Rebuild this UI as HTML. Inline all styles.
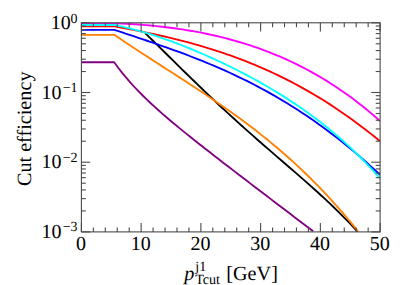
<!DOCTYPE html>
<html><head><meta charset="utf-8"><title>Cut efficiency</title>
<style>
html,body{margin:0;padding:0;background:#ffffff;}
body{width:407px;height:285px;overflow:hidden;}
svg{display:block;}
svg text{font-family:"Liberation Serif",serif;fill:#000;text-rendering:geometricPrecision;}
</style></head><body>
<svg width="407" height="285" viewBox="0 0 407 285">
<rect x="0" y="0" width="407" height="285" fill="#ffffff"/>
<defs><clipPath id="ax"><rect x="81.4" y="22.8" width="298.70" height="209.10"/></clipPath></defs>
<g clip-path="url(#ax)" fill="none" stroke-width="1.85" stroke-linejoin="round" stroke-linecap="butt">
<path d="M145.2,33.16 L149.2,37.05 L153.2,40.97 L157.2,44.89 L161.2,48.83 L165.2,52.77 L169.2,56.72 L173.2,60.67 L177.2,64.61 L181.2,68.55 L185.2,72.47 L189.2,76.38 L193.2,80.28 L197.2,84.15 L201.2,88.01 L205.2,91.85 L209.2,95.66 L213.2,99.45 L217.2,103.21 L221.2,106.95 L225.2,110.66 L229.2,114.35 L233.2,118.00 L237.2,121.64 L241.2,125.25 L245.2,128.83 L249.2,132.39 L253.2,135.93 L257.2,139.45 L261.2,142.95 L265.2,146.44 L269.2,149.91 L273.2,153.37 L277.2,156.83 L281.2,160.28 L285.2,163.73 L289.2,167.18 L293.2,170.64 L297.2,174.11 L301.2,177.60 L305.2,181.11 L309.2,184.64 L313.2,188.21 L317.2,191.81 L321.2,195.46 L325.2,199.15 L329.2,202.90 L333.2,206.71 L337.2,210.59 L341.2,214.55 L345.2,218.59 L349.2,222.72 L353.2,226.94 L357.2,231.28 L357.8,231.94" stroke="#000000"/>
<path d="M81.4,62.25 L114.2,62.25 L118.2,67.73 L122.2,72.87 L126.2,77.73 L130.2,82.35 L134.2,86.75 L138.2,90.96 L142.2,95.02 L146.2,98.94 L150.2,102.74 L154.2,106.43 L158.2,110.04 L162.2,113.57 L166.2,117.03 L170.2,120.44 L174.2,123.79 L178.2,127.10 L182.2,130.38 L186.2,133.62 L190.2,136.84 L194.2,140.03 L198.2,143.20 L202.2,146.35 L206.2,149.48 L210.2,152.60 L214.2,155.72 L218.2,158.82 L222.2,161.91 L226.2,164.99 L230.2,168.07 L234.2,171.14 L238.2,174.21 L242.2,177.27 L246.2,180.33 L250.2,183.39 L254.2,186.44 L258.2,189.49 L262.2,192.54 L266.2,195.59 L270.2,198.63 L274.2,201.68 L278.2,204.72 L282.2,207.76 L286.2,210.80 L290.2,213.85 L294.2,216.89 L298.2,219.92 L302.2,222.96 L306.2,226.00 L310.2,229.04 L313.2,231.32" stroke="#800080"/>
<path d="M81.4,34.85 L114.3,34.85 L118.3,37.57 L122.3,40.27 L126.3,42.94 L130.3,45.60 L134.3,48.23 L138.3,50.85 L142.3,53.46 L146.3,56.05 L150.3,58.64 L154.3,61.22 L158.3,63.79 L162.3,66.36 L166.3,68.93 L170.3,71.50 L174.3,74.07 L178.3,76.65 L182.3,79.23 L186.3,81.82 L190.3,84.43 L194.3,87.04 L198.3,89.68 L202.3,92.33 L206.3,95.00 L210.3,97.69 L214.3,100.41 L218.3,103.15 L222.3,105.92 L226.3,108.72 L230.3,111.55 L234.3,114.42 L238.3,117.32 L242.3,120.26 L246.3,123.24 L250.3,126.27 L254.3,129.33 L258.3,132.45 L262.3,135.61 L266.3,138.83 L270.3,142.10 L274.3,145.42 L278.3,148.80 L282.3,152.24 L286.3,155.75 L290.3,159.31 L294.3,162.94 L298.3,166.64 L302.3,170.41 L306.3,174.25 L310.3,178.16 L314.3,182.15 L318.3,186.22 L322.3,190.37 L326.3,194.60 L330.3,198.91 L334.3,203.32 L338.3,207.81 L342.3,212.39 L346.3,217.06 L350.3,221.83 L354.3,226.69 L357.9,231.16" stroke="#ff8000"/>
<path d="M81.4,23.30 L114.3,23.30 L118.3,23.44 L122.3,23.61 L126.3,23.80 L130.3,24.02 L134.3,24.26 L138.3,24.53 L142.3,24.83 L146.3,25.16 L150.3,25.51 L154.3,25.89 L158.3,26.30 L162.3,26.74 L166.3,27.22 L170.3,27.72 L174.3,28.26 L178.3,28.82 L182.3,29.42 L186.3,30.06 L190.3,30.73 L194.3,31.43 L198.3,32.17 L202.3,32.95 L206.3,33.76 L210.3,34.62 L214.3,35.51 L218.3,36.44 L222.3,37.41 L226.3,38.43 L230.3,39.49 L234.3,40.59 L238.3,41.74 L242.3,42.94 L246.3,44.18 L250.3,45.47 L254.3,46.80 L258.3,48.19 L262.3,49.63 L266.3,51.13 L270.3,52.67 L274.3,54.27 L278.3,55.93 L282.3,57.65 L286.3,59.42 L290.3,61.25 L294.3,63.15 L298.3,65.10 L302.3,67.12 L306.3,69.21 L310.3,71.36 L314.3,73.58 L318.3,75.87 L322.3,78.23 L326.3,80.66 L330.3,83.17 L334.3,85.75 L338.3,88.41 L342.3,91.14 L346.3,93.96 L350.3,96.86 L354.3,99.84 L358.3,102.90 L362.3,106.06 L366.3,109.30 L370.3,112.63 L374.3,116.05 L378.3,119.56 L380.0,121.08" stroke="#ff00ff"/>
<path d="M81.4,26.35 L114.3,26.35 L118.3,27.08 L122.3,27.83 L126.3,28.58 L130.3,29.35 L134.3,30.12 L138.3,30.92 L142.3,31.72 L146.3,32.55 L150.3,33.39 L154.3,34.25 L158.3,35.12 L162.3,36.02 L166.3,36.94 L170.3,37.89 L174.3,38.86 L178.3,39.85 L182.3,40.87 L186.3,41.91 L190.3,42.98 L194.3,44.08 L198.3,45.21 L202.3,46.37 L206.3,47.57 L210.3,48.79 L214.3,50.05 L218.3,51.34 L222.3,52.67 L226.3,54.03 L230.3,55.43 L234.3,56.87 L238.3,58.35 L242.3,59.86 L246.3,61.42 L250.3,63.02 L254.3,64.65 L258.3,66.33 L262.3,68.06 L266.3,69.83 L270.3,71.64 L274.3,73.50 L278.3,75.40 L282.3,77.35 L286.3,79.35 L290.3,81.40 L294.3,83.49 L298.3,85.64 L302.3,87.83 L306.3,90.08 L310.3,92.38 L314.3,94.72 L318.3,97.13 L322.3,99.58 L326.3,102.09 L330.3,104.65 L334.3,107.27 L338.3,109.94 L342.3,112.67 L346.3,115.45 L350.3,118.29 L354.3,121.19 L358.3,124.14 L362.3,127.16 L366.3,130.23 L370.3,133.36 L374.3,136.55 L378.3,139.80 L380.0,141.20" stroke="#ff0000"/>
<path d="M81.4,29.80 L114.3,29.80 L118.3,31.13 L122.3,32.47 L126.3,33.80 L130.3,35.13 L134.3,36.47 L138.3,37.80 L142.3,39.15 L146.3,40.50 L150.3,41.86 L154.3,43.23 L158.3,44.61 L162.3,46.01 L166.3,47.41 L170.3,48.84 L174.3,50.28 L178.3,51.74 L182.3,53.22 L186.3,54.73 L190.3,56.25 L194.3,57.80 L198.3,59.38 L202.3,60.98 L206.3,62.61 L210.3,64.27 L214.3,65.95 L218.3,67.67 L222.3,69.43 L226.3,71.21 L230.3,73.03 L234.3,74.89 L238.3,76.79 L242.3,78.72 L246.3,80.69 L250.3,82.70 L254.3,84.75 L258.3,86.85 L262.3,88.99 L266.3,91.17 L270.3,93.39 L274.3,95.66 L278.3,97.98 L282.3,100.35 L286.3,102.76 L290.3,105.23 L294.3,107.74 L298.3,110.30 L302.3,112.92 L306.3,115.59 L310.3,118.30 L314.3,121.08 L318.3,123.91 L322.3,126.79 L326.3,129.72 L330.3,132.72 L334.3,135.77 L338.3,138.87 L342.3,142.04 L346.3,145.26 L350.3,148.54 L354.3,151.88 L358.3,155.28 L362.3,158.74 L366.3,162.26 L370.3,165.84 L374.3,169.48 L378.3,173.18 L380.0,174.78" stroke="#0000ff"/>
<path d="M81.4,24.95 L114.3,24.95 L118.3,25.75 L122.3,26.62 L126.3,27.54 L130.3,28.52 L134.3,29.55 L138.3,30.63 L142.3,31.77 L146.3,32.95 L150.3,34.18 L154.3,35.45 L158.3,36.76 L162.3,38.12 L166.3,39.52 L170.3,40.96 L174.3,42.43 L178.3,43.95 L182.3,45.50 L186.3,47.08 L190.3,48.70 L194.3,50.35 L198.3,52.04 L202.3,53.76 L206.3,55.52 L210.3,57.31 L214.3,59.13 L218.3,60.98 L222.3,62.87 L226.3,64.79 L230.3,66.74 L234.3,68.73 L238.3,70.75 L242.3,72.81 L246.3,74.91 L250.3,77.04 L254.3,79.22 L258.3,81.43 L262.3,83.68 L266.3,85.98 L270.3,88.32 L274.3,90.70 L278.3,93.14 L282.3,95.62 L286.3,98.15 L290.3,100.74 L294.3,103.38 L298.3,106.07 L302.3,108.83 L306.3,111.65 L310.3,114.53 L314.3,117.48 L318.3,120.50 L322.3,123.60 L326.3,126.77 L330.3,130.01 L334.3,133.34 L338.3,136.76 L342.3,140.26 L346.3,143.86 L350.3,147.55 L354.3,151.34 L358.3,155.24 L362.3,159.24 L366.3,163.35 L370.3,167.58 L374.3,171.93 L378.3,176.41 L380.0,178.34" stroke="#00ffff"/>
</g>
<g stroke="#4a4a4a" stroke-width="1.1" fill="none">
<line x1="81.40" y1="231.9" x2="81.40" y2="223.10"/>
<line x1="81.40" y1="22.8" x2="81.40" y2="31.60"/>
<line x1="93.35" y1="231.9" x2="93.35" y2="227.50"/>
<line x1="93.35" y1="22.8" x2="93.35" y2="27.20"/>
<line x1="105.30" y1="231.9" x2="105.30" y2="227.50"/>
<line x1="105.30" y1="22.8" x2="105.30" y2="27.20"/>
<line x1="117.24" y1="231.9" x2="117.24" y2="227.50"/>
<line x1="117.24" y1="22.8" x2="117.24" y2="27.20"/>
<line x1="129.19" y1="231.9" x2="129.19" y2="227.50"/>
<line x1="129.19" y1="22.8" x2="129.19" y2="27.20"/>
<line x1="141.14" y1="231.9" x2="141.14" y2="223.10"/>
<line x1="141.14" y1="22.8" x2="141.14" y2="31.60"/>
<line x1="153.09" y1="231.9" x2="153.09" y2="227.50"/>
<line x1="153.09" y1="22.8" x2="153.09" y2="27.20"/>
<line x1="165.04" y1="231.9" x2="165.04" y2="227.50"/>
<line x1="165.04" y1="22.8" x2="165.04" y2="27.20"/>
<line x1="176.98" y1="231.9" x2="176.98" y2="227.50"/>
<line x1="176.98" y1="22.8" x2="176.98" y2="27.20"/>
<line x1="188.93" y1="231.9" x2="188.93" y2="227.50"/>
<line x1="188.93" y1="22.8" x2="188.93" y2="27.20"/>
<line x1="200.88" y1="231.9" x2="200.88" y2="223.10"/>
<line x1="200.88" y1="22.8" x2="200.88" y2="31.60"/>
<line x1="212.83" y1="231.9" x2="212.83" y2="227.50"/>
<line x1="212.83" y1="22.8" x2="212.83" y2="27.20"/>
<line x1="224.78" y1="231.9" x2="224.78" y2="227.50"/>
<line x1="224.78" y1="22.8" x2="224.78" y2="27.20"/>
<line x1="236.72" y1="231.9" x2="236.72" y2="227.50"/>
<line x1="236.72" y1="22.8" x2="236.72" y2="27.20"/>
<line x1="248.67" y1="231.9" x2="248.67" y2="227.50"/>
<line x1="248.67" y1="22.8" x2="248.67" y2="27.20"/>
<line x1="260.62" y1="231.9" x2="260.62" y2="223.10"/>
<line x1="260.62" y1="22.8" x2="260.62" y2="31.60"/>
<line x1="272.57" y1="231.9" x2="272.57" y2="227.50"/>
<line x1="272.57" y1="22.8" x2="272.57" y2="27.20"/>
<line x1="284.52" y1="231.9" x2="284.52" y2="227.50"/>
<line x1="284.52" y1="22.8" x2="284.52" y2="27.20"/>
<line x1="296.46" y1="231.9" x2="296.46" y2="227.50"/>
<line x1="296.46" y1="22.8" x2="296.46" y2="27.20"/>
<line x1="308.41" y1="231.9" x2="308.41" y2="227.50"/>
<line x1="308.41" y1="22.8" x2="308.41" y2="27.20"/>
<line x1="320.36" y1="231.9" x2="320.36" y2="223.10"/>
<line x1="320.36" y1="22.8" x2="320.36" y2="31.60"/>
<line x1="332.31" y1="231.9" x2="332.31" y2="227.50"/>
<line x1="332.31" y1="22.8" x2="332.31" y2="27.20"/>
<line x1="344.26" y1="231.9" x2="344.26" y2="227.50"/>
<line x1="344.26" y1="22.8" x2="344.26" y2="27.20"/>
<line x1="356.20" y1="231.9" x2="356.20" y2="227.50"/>
<line x1="356.20" y1="22.8" x2="356.20" y2="27.20"/>
<line x1="368.15" y1="231.9" x2="368.15" y2="227.50"/>
<line x1="368.15" y1="22.8" x2="368.15" y2="27.20"/>
<line x1="380.10" y1="231.9" x2="380.10" y2="223.10"/>
<line x1="380.10" y1="22.8" x2="380.10" y2="31.60"/>
<line x1="81.4" y1="22.80" x2="90.20" y2="22.80"/>
<line x1="380.1" y1="22.80" x2="371.30" y2="22.80"/>
<line x1="81.4" y1="71.52" x2="85.80" y2="71.52"/>
<line x1="380.1" y1="71.52" x2="375.70" y2="71.52"/>
<line x1="81.4" y1="59.24" x2="85.80" y2="59.24"/>
<line x1="380.1" y1="59.24" x2="375.70" y2="59.24"/>
<line x1="81.4" y1="50.54" x2="85.80" y2="50.54"/>
<line x1="380.1" y1="50.54" x2="375.70" y2="50.54"/>
<line x1="81.4" y1="43.78" x2="85.80" y2="43.78"/>
<line x1="380.1" y1="43.78" x2="375.70" y2="43.78"/>
<line x1="81.4" y1="38.26" x2="85.80" y2="38.26"/>
<line x1="380.1" y1="38.26" x2="375.70" y2="38.26"/>
<line x1="81.4" y1="33.60" x2="85.80" y2="33.60"/>
<line x1="380.1" y1="33.60" x2="375.70" y2="33.60"/>
<line x1="81.4" y1="29.55" x2="85.80" y2="29.55"/>
<line x1="380.1" y1="29.55" x2="375.70" y2="29.55"/>
<line x1="81.4" y1="25.99" x2="85.80" y2="25.99"/>
<line x1="380.1" y1="25.99" x2="375.70" y2="25.99"/>
<line x1="81.4" y1="92.50" x2="90.20" y2="92.50"/>
<line x1="380.1" y1="92.50" x2="371.30" y2="92.50"/>
<line x1="81.4" y1="141.22" x2="85.80" y2="141.22"/>
<line x1="380.1" y1="141.22" x2="375.70" y2="141.22"/>
<line x1="81.4" y1="128.94" x2="85.80" y2="128.94"/>
<line x1="380.1" y1="128.94" x2="375.70" y2="128.94"/>
<line x1="81.4" y1="120.24" x2="85.80" y2="120.24"/>
<line x1="380.1" y1="120.24" x2="375.70" y2="120.24"/>
<line x1="81.4" y1="113.48" x2="85.80" y2="113.48"/>
<line x1="380.1" y1="113.48" x2="375.70" y2="113.48"/>
<line x1="81.4" y1="107.96" x2="85.80" y2="107.96"/>
<line x1="380.1" y1="107.96" x2="375.70" y2="107.96"/>
<line x1="81.4" y1="103.30" x2="85.80" y2="103.30"/>
<line x1="380.1" y1="103.30" x2="375.70" y2="103.30"/>
<line x1="81.4" y1="99.25" x2="85.80" y2="99.25"/>
<line x1="380.1" y1="99.25" x2="375.70" y2="99.25"/>
<line x1="81.4" y1="95.69" x2="85.80" y2="95.69"/>
<line x1="380.1" y1="95.69" x2="375.70" y2="95.69"/>
<line x1="81.4" y1="162.20" x2="90.20" y2="162.20"/>
<line x1="380.1" y1="162.20" x2="371.30" y2="162.20"/>
<line x1="81.4" y1="210.92" x2="85.80" y2="210.92"/>
<line x1="380.1" y1="210.92" x2="375.70" y2="210.92"/>
<line x1="81.4" y1="198.64" x2="85.80" y2="198.64"/>
<line x1="380.1" y1="198.64" x2="375.70" y2="198.64"/>
<line x1="81.4" y1="189.94" x2="85.80" y2="189.94"/>
<line x1="380.1" y1="189.94" x2="375.70" y2="189.94"/>
<line x1="81.4" y1="183.18" x2="85.80" y2="183.18"/>
<line x1="380.1" y1="183.18" x2="375.70" y2="183.18"/>
<line x1="81.4" y1="177.66" x2="85.80" y2="177.66"/>
<line x1="380.1" y1="177.66" x2="375.70" y2="177.66"/>
<line x1="81.4" y1="173.00" x2="85.80" y2="173.00"/>
<line x1="380.1" y1="173.00" x2="375.70" y2="173.00"/>
<line x1="81.4" y1="168.95" x2="85.80" y2="168.95"/>
<line x1="380.1" y1="168.95" x2="375.70" y2="168.95"/>
<line x1="81.4" y1="165.39" x2="85.80" y2="165.39"/>
<line x1="380.1" y1="165.39" x2="375.70" y2="165.39"/>
<line x1="81.4" y1="231.90" x2="90.20" y2="231.90"/>
<line x1="380.1" y1="231.90" x2="371.30" y2="231.90"/>
<rect x="81.4" y="22.8" width="298.70" height="209.10"/>
</g>
<g>
<text x="81.00" y="250.0" text-anchor="middle" font-size="20.0">0</text>
<text x="140.74" y="250.0" text-anchor="middle" font-size="20.0">10</text>
<text x="200.48" y="250.0" text-anchor="middle" font-size="20.0">20</text>
<text x="260.22" y="250.0" text-anchor="middle" font-size="20.0">30</text>
<text x="319.96" y="250.0" text-anchor="middle" font-size="20.0">40</text>
<text x="379.70" y="250.0" text-anchor="middle" font-size="20.0">50</text>
<text x="77.6" y="28.90" text-anchor="end" font-size="20.0">10<tspan dx="-0.2" dy="-5.9" font-size="14.0">0</tspan></text>
<text x="77.6" y="98.60" text-anchor="end" font-size="20.0">10<tspan dx="1.1" dy="-6.6" font-size="14.0">−1</tspan></text>
<text x="77.6" y="168.30" text-anchor="end" font-size="20.0">10<tspan dx="1.1" dy="-6.6" font-size="14.0">−2</tspan></text>
<text x="77.6" y="238.00" text-anchor="end" font-size="20.0">10<tspan dx="1.1" dy="-6.6" font-size="14.0">−3</tspan></text>
<text transform="translate(31.4,128.8) rotate(-90)" text-anchor="middle" font-size="20.2">Cut efficiency</text>
<text x="184.2" y="280.3" font-size="20.2" font-style="italic">p</text>
<text x="195.3" y="270.7" font-size="14.1">j1</text>
<text x="195.2" y="283.6" font-size="14.1">Tcut</text>
<text x="226.3" y="280.2" font-size="20.2">[GeV]</text>
</g>
</svg>
</body></html>
